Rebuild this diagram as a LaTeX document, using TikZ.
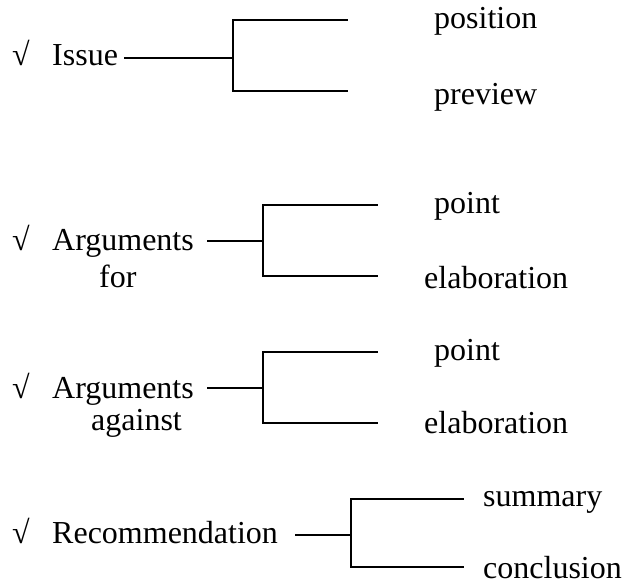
\documentclass[tikz,border=0pt]{standalone}
\usepackage{fontspec}
\setmainfont{Liberation Serif}
\begin{document}
\begin{tikzpicture}[x=1pt,y=-1pt,
  txt/.style={anchor=base west,inner sep=0pt,font=\fontsize{32}{38}\selectfont},
  ln/.style={line width=1.6pt,line cap=rect}]
\useasboundingbox (0,0) rectangle (623,586);
% group 1
\node[txt] (c1) at (12,66) {√};
\node[txt] (issue) at (52,66) {Issue};
\coordinate (a1) at (125,58);
\coordinate (j1) at (233,58);
\coordinate (t1) at (233,20);
\coordinate (b1) at (233,91);
\coordinate (te1) at (347,20);
\coordinate (be1) at (347,91);
\draw[ln] (a1) -- (j1);
\draw[ln] (te1) -- (t1) -- (b1) -- (be1);
\node[txt] (pos) at (434,29) {position};
\node[txt] (prev) at (434,104) {preview};
% group 2
\node[txt] (c2) at (12,250) {√};
\node[txt] (argf) at (52,250) {Arguments};
\node[txt] (for) at (99,287) {for};
\coordinate (a2) at (208,241);
\coordinate (j2) at (263,241);
\coordinate (t2) at (263,205);
\coordinate (b2) at (263,276);
\coordinate (te2) at (377,205);
\coordinate (be2) at (377,276);
\draw[ln] (a2) -- (j2);
\draw[ln] (te2) -- (t2) -- (b2) -- (be2);
\node[txt] (pt2) at (434,213) {point};
\node[txt] (el2) at (424,288) {elaboration};
% group 3
\node[txt] (c3) at (12,398) {√};
\node[txt] (arga) at (52,398) {Arguments};
\node[txt] (ag) at (91,430) {against};
\coordinate (a3) at (208,388);
\coordinate (j3) at (263,388);
\coordinate (t3) at (263,352);
\coordinate (b3) at (263,423);
\coordinate (te3) at (377,352);
\coordinate (be3) at (377,423);
\draw[ln] (a3) -- (j3);
\draw[ln] (te3) -- (t3) -- (b3) -- (be3);
\node[txt] (pt3) at (434,360) {point};
\node[txt] (el3) at (424,433) {elaboration};
% group 4
\node[txt] (c4) at (12,543) {√};
\node[txt] (rec) at (52,543) {Recommendation};
\coordinate (a4) at (296,535);
\coordinate (j4) at (351,535);
\coordinate (t4) at (351,499);
\coordinate (b4) at (351,567);
\coordinate (te4) at (463,499);
\coordinate (be4) at (463,567);
\draw[ln] (a4) -- (j4);
\draw[ln] (te4) -- (t4) -- (b4) -- (be4);
\node[txt] (sum) at (483,506) {summary};
\node[txt] (conc) at (483,578) {conclusion};
\end{tikzpicture}
\end{document}
